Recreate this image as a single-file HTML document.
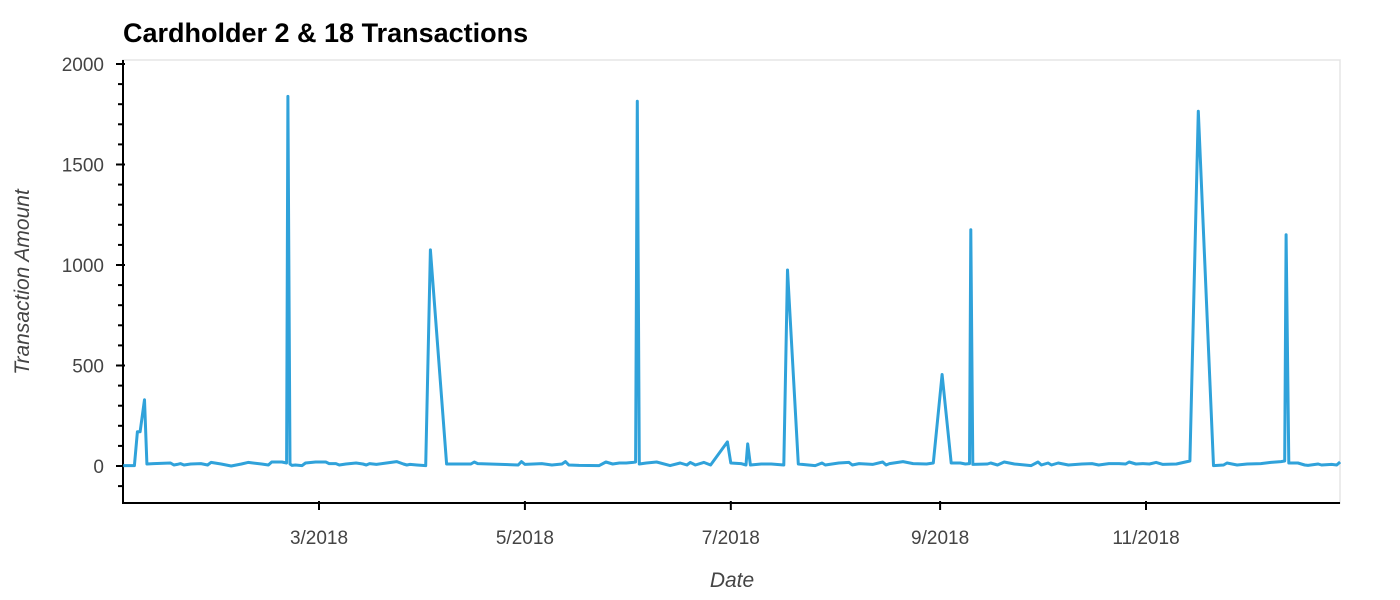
<!DOCTYPE html>
<html><head><meta charset="utf-8"><style>
body{margin:0;background:#fff;}
svg{display:block;font-family:"Liberation Sans",sans-serif;}
</style></head><body>
<svg id="chart" width="1400" height="600">
<text x="123" y="42" font-size="27" font-weight="bold" fill="#000">Cardholder 2 &amp; 18 Transactions</text>
<rect x="123" y="60" width="1217" height="443" fill="none" stroke="#e5e5e5" stroke-width="1.5"/>
<g id="axes"></g>
<path id="line" fill="none" stroke="#30a2da" stroke-width="3" stroke-linejoin="round"/>
<text transform="translate(29,282) rotate(-90)" text-anchor="middle" font-size="21" font-style="italic" fill="#444">Transaction Amount</text>
<text x="732" y="587" text-anchor="middle" font-size="21" font-style="italic" fill="#444">Date</text>
</svg>
<script>
const days=[1,3,4.3,5.2,6,7.3,8,10,15,16,17,18,19,21,24,26,27,30,33,36,38,42,44,45,48,49.4,49.8,50.4,51,52,54,55,58,61,62,64,65,67,70,72,73,74,76,79,82,84,85,86,88,90.6,92,96.8,104,105,106,118,119,120,125,128,131,132,133,136,142,144,146,148,150,152,152.8,153.3,153.9,156,159,163,166,168,169,170.5,173,175,180,181,184,185.5,186,186.8,190,193,196.7,197.8,201,204,206,208,209,213,216,217,219,223,226,227,228,232,235,239,241,243.6,246.3,249,250.5,251.7,252.1,252.7,257,258,260,262,265,270,272,273,275,276,278,281,285,288,290,293,296,298,299,301,303,305,307,309,313,317,319.5,324,327,328,331,334,338,341,344,345.1,345.5,346.3,349,351,352,355,356,359,360.5,361.5];
const amounts=[2,2,2,170,170,330,10,12,15,5,8,12,5,10,12,5,18,10,0,10,18,10,5,20,20,15,1839,10,3,5,2,15,20,20,12,12,5,10,15,10,5,12,8,15,22,10,5,8,5,2,1075,10,10,20,12,5,22,8,12,5,10,22,5,3,2,20,10,15,15,18,20,1815,10,15,20,2,15,5,18,5,18,5,120,15,12,5,110,5,10,10,5,975,10,5,2,15,5,15,18,5,12,8,20,5,12,22,12,10,15,455,15,15,10,12,1175,8,10,15,5,20,10,2,20,5,15,5,15,5,10,12,5,12,12,10,20,10,12,10,18,8,10,25,1765,2,5,15,5,10,12,18,22,25,1150,15,15,5,3,10,5,8,5,20];
const yTicks=[0,500,1000,1500,2000];
const xTickDays=[59,120,181,243,304];
const xTickLabels=["3/2018","5/2018","7/2018","9/2018","11/2018"];
const NS='http://www.w3.org/2000/svg';
const X=d=>119.85+3.3755*d;
const Y=v=>466-v*0.201;
const ax=document.getElementById('axes');
function mk(t,a){const e=document.createElementNS(NS,t);for(const k in a)e.setAttribute(k,a[k]);ax.appendChild(e);return e;}
let l=mk('line',{x1:123,y1:60,x2:123,y2:504,stroke:'#000','stroke-width':2});


l=mk('line',{x1:122,y1:503,x2:1340,y2:503,stroke:'#000','stroke-width':2});


for(let v=-300;v<=2000;v+=100){
  if(Y(v)>503)continue;
  const major=v%500===0;
  const t=mk('line',{x1:major?116:118,y1:Y(v),x2:major?125:123,y2:Y(v),stroke:'#000','stroke-width':2});
  
  
}
yTicks.forEach(v=>{
  const t=mk('text',{x:104,y:Y(v)+7,'text-anchor':'end','font-size':19,fill:'#444'});
  t.textContent=v;
  
  
});
xTickDays.forEach((d,i)=>{
  const t=mk('line',{x1:X(d),y1:501,x2:X(d),y2:510,stroke:'#000','stroke-width':2});
  
  
  const s=mk('text',{x:X(d),y:544,'text-anchor':'middle','font-size':19,fill:'#444'});
  s.textContent=xTickLabels[i];
  
  
});
document.getElementById('line').setAttribute('d',days.map((d,i)=>(i?'L':'M')+X(d).toFixed(1)+','+Y(amounts[i]).toFixed(1)).join(''));
</script>
</body></html>
